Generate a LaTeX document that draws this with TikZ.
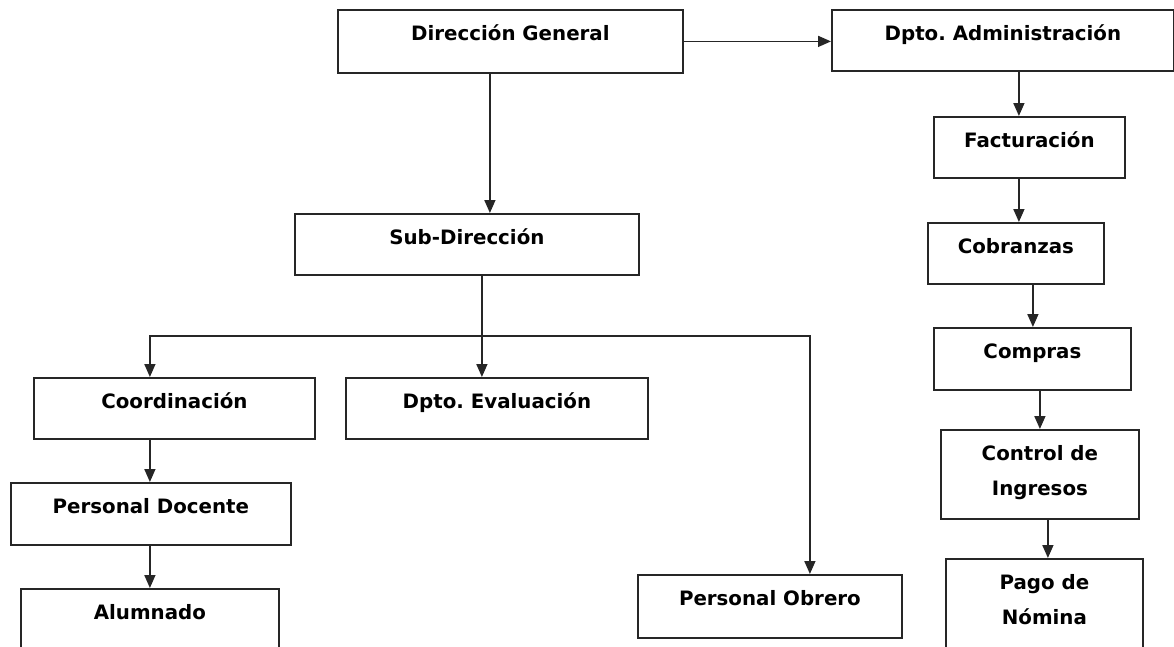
\documentclass[tikz,border=0pt]{standalone}
\usepackage{fontspec}
\setmainfont{DejaVu Sans}
\frenchspacing
\usetikzlibrary{arrows.meta}

\begin{document}
\begin{tikzpicture}[x=1pt,y=-1pt,
    orgbox/.style n args={2}{draw=black!85, line width=1.8pt, anchor=north west,
      minimum width=#1, text height=31pt, text depth=#2,
      inner xsep=0pt, inner ysep=0pt, font=\bfseries\fontsize{19.8}{35}\selectfont},
    arr/.style={draw=black!85, line width=1.6pt, -{Triangle[length=13pt,width=11pt]}}]
  % page of 1174 x 646 px, y goes down
  \useasboundingbox (0,0) rectangle (1174,646);
  \clip (0,0) rectangle (1174,646);

  % top level
  \node[orgbox={345pt}{32pt}] (dg) at (337,9) {Dirección General};
  \node[orgbox={342pt}{30pt}] (da) at (831,9) {Dpto. Administración};
  \node[orgbox={344pt}{30pt}] (sub) at (294,213) {Sub-Dirección};

  % academic branch
  \node[orgbox={281pt}{30pt}] (coord) at (33,377) {Coordinación};
  \node[orgbox={302pt}{30pt}] (eval) at (345,377) {Dpto. Evaluación};
  \node[orgbox={280pt}{31pt}] (docente) at (10,482) {Personal Docente};
  \node[orgbox={258pt}{80pt}] (alumnado) at (20,588) {Alumnado};
  \node[orgbox={264pt}{32pt}] (obrero) at (637,574) {Personal Obrero};

  % administration branch
  \node[orgbox={191pt}{30pt}] (fact) at (933,116) {Facturación};
  \node[orgbox={176pt}{30pt}] (cobr) at (927,222) {Cobranzas};
  \node[orgbox={197pt}{31pt}] (compras) at (933,327) {Compras};
  \node[orgbox={198pt}{58pt}] (control) at (940,429)
    {\begin{tabular}[t]{@{}c@{}}Control de\\Ingresos\end{tabular}};
  \node[orgbox={197pt}{80pt}] (pago) at (945,558)
    {\begin{tabular}[t]{@{}c@{}}Pago de\\Nómina\end{tabular}};

  % connectors
  \draw[arr] (dg.east) -- (dg.east -| da.west);
  \draw[arr] ([xshift=-20.5pt]dg.south) -- ([xshift=-20.5pt]dg.south |- sub.north);
  \draw[arr] ([xshift=15pt]sub.south) -- ([xshift=15pt]sub.south |- eval.north);
  \coordinate (bus) at (481,336);
  \draw[arr] (bus) -| ([xshift=-24.5pt]coord.north);
  \draw[arr] (bus) -| ([xshift=40pt]obrero.north);
  \draw[arr] ([xshift=-24.5pt]coord.south) -- ([xshift=-24.5pt]coord.south |- docente.north);
  \draw[arr] ([xshift=-1pt]docente.south) -- ([xshift=-1pt]docente.south |- alumnado.north);

  \draw[arr] ([xshift=16pt]da.south) -- ([xshift=16pt]da.south |- fact.north);
  \draw[arr] ([xshift=-10.5pt]fact.south) -- ([xshift=-10.5pt]fact.south |- cobr.north);
  \draw[arr] ([xshift=17pt]cobr.south) -- ([xshift=17pt]cobr.south |- compras.north);
  \draw[arr] ([xshift=7.5pt]compras.south) -- ([xshift=7.5pt]compras.south |- control.north);
  \draw[arr] ([xshift=8pt]control.south) -- ([xshift=8pt]control.south |- pago.north);
\end{tikzpicture}
\end{document}
